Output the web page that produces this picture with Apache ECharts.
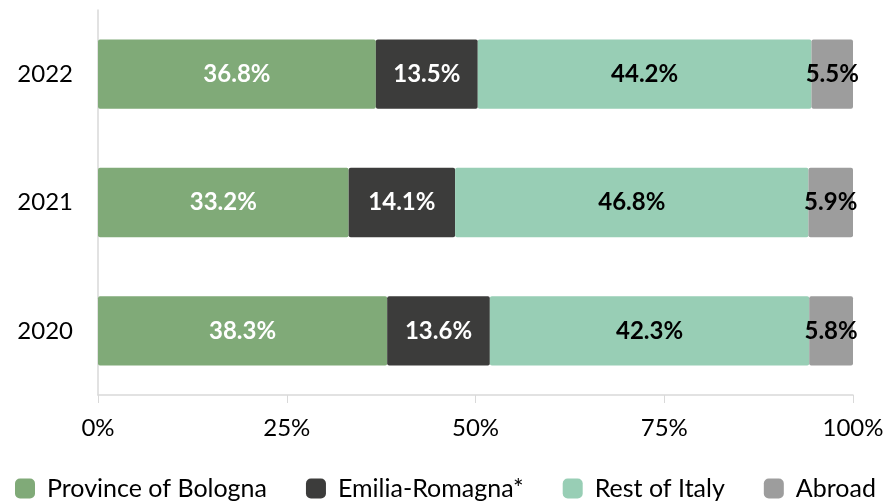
<!DOCTYPE html>
<html>
<head>
<meta charset="utf-8">
<script src="https://cdn.jsdelivr.net/npm/echarts@6/dist/echarts.min.js"></script>
<style>
html,body{margin:0;padding:0;background:#fff;}
#chart{width:887px;height:503px;}
</style>
</head>
<body>
<div id="chart"></div>
<script>
// data
var years=["2020","2021","2022"];
var bologna=[38.3,33.2,36.8];
var emilia=[13.6,14.1,13.5];
var restItaly=[42.3,46.8,44.2];
var abroad=[5.8,5.9,5.5];
var xTicks=[0,25,50,75,100];

var chart=echarts.init(document.getElementById("chart"));
var font="Lato, 'Open Sans', sans-serif";

function bar(name,data,color,labelColor){
	return {
		type:"bar",
		name:name,
		stack:"total",
		barWidth:"54%",
		data:data,
		itemStyle:{color:color,borderRadius:2},
		label:{
			show:true,
			position:"inside",
			formatter:function(p){return p.value.toFixed(1)+"%";},
			color:labelColor,
			fontFamily:font,
			fontWeight:"bold",
			fontSize:24
		}
	};
}

var option={
	animation:false,
	textStyle:{fontFamily:font},
	grid:{left:98,right:34,top:10,bottom:108,containLabel:false},
	legend:{
		top:476,
		left:15,
		padding:0,
		itemWidth:20,
		itemHeight:20,
		itemGap:39,
		icon:"roundRect",
		textStyle:{fontSize:25,color:"#000",fontFamily:font,padding:[0,0,0,7]},
		data:["Province of Bologna","Emilia-Romagna*","Rest of Italy","Abroad"]
	},
	xAxis:{
		type:"value",
		min:xTicks[0],
		max:xTicks[xTicks.length-1],
		interval:25,
		axisLine:{show:true,lineStyle:{color:"#d9d9d9",width:1.5}},
		axisTick:{show:true,length:8,lineStyle:{color:"#d9d9d9"}},
		splitLine:{show:false},
		axisLabel:{formatter:"{value}%",fontSize:24,color:"#000",margin:21,fontFamily:font}
	},
	yAxis:{
		type:"category",
		data:years,
		axisLine:{show:true,lineStyle:{color:"#d9d9d9",width:1.5}},
		axisTick:{show:false},
		axisLabel:{fontSize:24,color:"#000",margin:25,fontFamily:font}
	},
	series:[
		bar("Province of Bologna",bologna,"#80aa78","#fff"),
		bar("Emilia-Romagna*",emilia,"#3c3c3b","#fff"),
		bar("Rest of Italy",restItaly,"#98ceb5","#000"),
		bar("Abroad",abroad,"#9d9d9d","#000")
	]
};
chart.setOption(option);
</script>
</body>
</html>
